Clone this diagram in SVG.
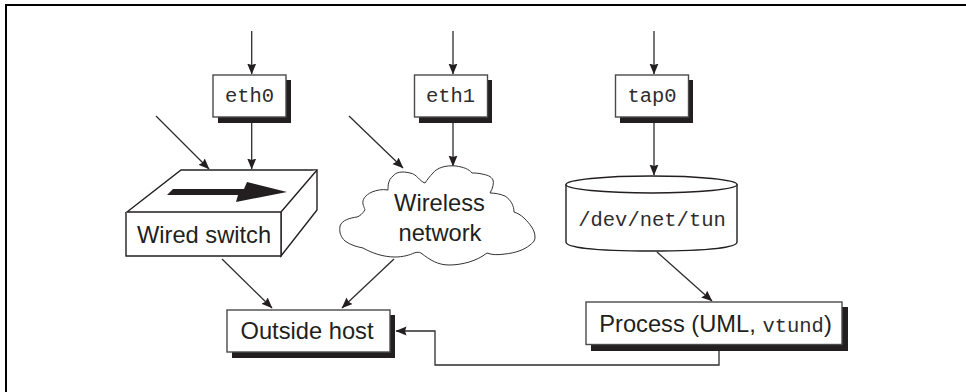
<svg xmlns="http://www.w3.org/2000/svg" width="966" height="392" viewBox="0 0 966 392">
<style>
.ln{fill:none;stroke:#2e2c2d;stroke-width:1.3}
.box{fill:#fff;stroke:#4a4a4a;stroke-width:1.4}
.sh{fill:#231f20}
.sans{font-family:"Liberation Sans",Arial,sans-serif;font-size:23.7px;fill:#231f20}
.mono{font-family:"Liberation Mono","Courier New",monospace;font-size:20.5px;fill:#2e2c2d}
text{text-anchor:middle}
</style>
<defs>
<marker id="a" markerUnits="userSpaceOnUse" markerWidth="14" markerHeight="12" refX="10.500" refY="4.500" orient="auto"><path d="M0 0L11 4.500L0 9L1.500 4.500Z" fill="#231f20"/></marker>
</defs>
<rect width="966" height="392" fill="#fff"/>
<path d="M6 392V5H966" fill="none" stroke="#000" stroke-width="2"/>
<g id="connectors">
<path class="ln" marker-end="url(#a)" d="M251.700 31V74"/>
<path class="ln" marker-end="url(#a)" d="M251.700 123V169"/>
<path class="ln" marker-end="url(#a)" d="M156 116L209 169"/>
<path class="ln" marker-end="url(#a)" d="M453 31V74"/>
<path class="ln" marker-end="url(#a)" d="M453 123V166"/>
<path class="ln" marker-end="url(#a)" d="M349 116L403 168"/>
<path class="ln" marker-end="url(#a)" d="M654 31V74"/>
<path class="ln" marker-end="url(#a)" d="M654 123V175"/>
<path class="ln" marker-end="url(#a)" d="M657 252L712 301"/>
<path class="ln" marker-end="url(#a)" d="M222 259L272 308"/>
<path class="ln" marker-end="url(#a)" d="M394 259L342 308"/>
<path class="ln" marker-end="url(#a)" d="M719 350V365H435V331H396"/>
</g>
<g id="eth0"><rect class="sh" x="218" y="80" width="73" height="43"/><rect class="box" x="213" y="75" width="73" height="42"/><text class="mono" x="249.500" y="102">eth0</text></g>
<g id="eth1"><rect class="sh" x="419" y="80" width="73" height="43"/><rect class="box" x="414.500" y="75" width="73" height="42"/><text class="mono" x="450.500" y="102">eth1</text></g>
<g id="tap0"><rect class="sh" x="620" y="80" width="73" height="43"/><rect class="box" x="615.500" y="75" width="73" height="42"/><text class="mono" x="652" y="102">tap0</text></g>
<g id="switch">
<path style="fill:#fff;stroke:#231f20;stroke-width:1.400" d="M127 212L181 170H317V210L281 256V212Z"/>
<path style="fill:#fff;stroke:#231f20;stroke-width:1.400" d="M127 212H281L317 170M281 212V256H126V212"/>
<path class="sh" d="M173 189H244L247 182L287 192L236 202L238 195H167Z"/>
<text class="sans" x="204" y="243">Wired switch</text>
</g>
<g id="cloud">
<path d="M425 183C419 181 417 174 410 173C402 171 396 172 393 176C388 180 388 186 388 190C382 189 377 190 372 192C365 195 362 200 363 204C364 208 365 209 365 210C362 214 360 216 357 217C350 218 342 220 340 226C339 233 341 237 345 241C350 245 358 247 363 248C372 253 383 257 395 257C403 257 410 255 414 253C417 252 419 252 421 253C430 260 438 265 449 265C462 265 477 261 487 253C492 255 498 255 505 254C515 253 524 250 530 245C534 242 535 240 535 237C535 230 530 224 524 218C521 215 517 213 514 212C514 206 511 200 505 196C500 194 495 193 490 193C493 188 494 183 493 180C491 176 487 175 482 174C478 173 474 173 472 173C469 169 463 167 456 166C445 165 437 168 433 173C430 176 427 180 425 183Z" fill="#fff" stroke="#333" stroke-width="1"/>
<text class="sans" x="439.500" y="211">Wireless</text>
<text class="sans" x="440" y="241">network</text>
</g>
<g id="tun">
<path style="fill:#fff;stroke:#231f20;stroke-width:1.400" d="M566 184V242C566 247 590 251 651.500 251C713 251 737 247 737 242V184"/>
<ellipse cx="651.500" cy="184.500" rx="85.500" ry="8.500" fill="#fff" stroke="#231f20" stroke-width="1.400"/>
<text class="mono" x="652" y="226">/dev/net/tun</text>
</g>
<g id="host"><rect class="sh" x="232" y="315" width="163" height="43"/><rect class="box" x="227" y="310" width="163" height="42"/><text class="sans" x="307" y="339">Outside host</text></g>
<g id="process"><rect class="sh" x="591" y="307" width="257" height="44"/><rect class="box" x="586" y="302" width="256" height="42.500"/><text class="sans" x="715.500" y="332">Process (UML, <tspan class="mono">vtund</tspan>)</text></g>
</svg>
